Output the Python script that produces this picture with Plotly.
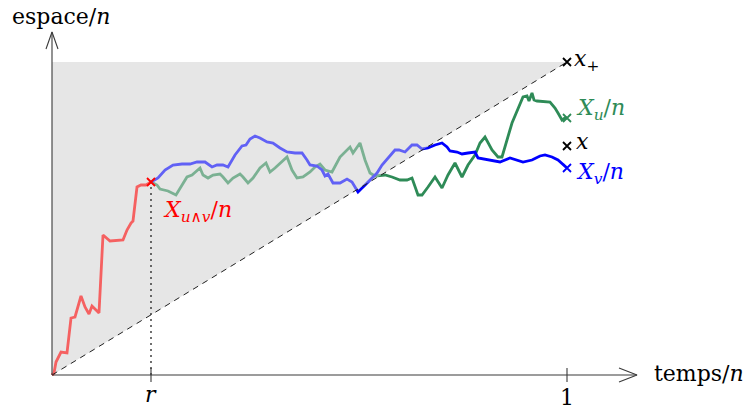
import plotly.graph_objects as go

# ---- data (time in steps, n = N; space in lattice units) ----
N = 515          # time horizon n  (t/n = 1)
XPLUS = 313      # x_+ level
X_LEVEL = 229    # x level
R = 99           # time r

red_t = [0, 2, 4, 9, 15, 19, 23, 29, 33, 37, 40, 47, 51, 58, 71, 75, 79, 81, 85, 89, 94, 99]
red_s = [0, 2, 13, 23, 22, 57, 58, 79, 68, 61, 69, 62, 140, 134, 135, 145, 152, 154, 188, 190, 190, 193]

blue_t = [99, 106, 113, 121, 130, 138, 145, 153, 160, 165, 171, 176, 183, 190, 194, 198, 203, 208,
          215, 221, 228, 235, 243, 250, 255, 258, 265, 270, 273, 276, 281, 288, 295, 300, 306, 313,
          318, 325, 330, 336, 343, 347, 353, 360, 365, 370, 376, 383, 390, 395, 398, 405, 410, 416,
          423, 426, 431, 438, 448, 458, 465, 471, 480, 488, 493, 500, 506, 511, 515]
blue_s = [193, 197, 205, 210, 211, 211, 213, 213, 208, 210, 210, 208, 220, 229, 230, 236, 239, 237,
          233, 232, 227, 223, 222, 222, 215, 210, 209, 205, 199, 201, 192, 192, 196, 193, 183, 190,
          195, 202, 210, 217, 225, 225, 223, 230, 230, 226, 227, 230, 232, 228, 224, 223, 221, 222,
          223, 217, 216, 215, 213, 217, 215, 213, 215, 219, 220, 218, 215, 210, 207]

green_t = [99, 105, 108, 116, 124, 130, 135, 140, 145, 148, 151, 156, 161, 168, 171, 176, 181, 188,
           191, 196, 201, 208, 214, 218, 223, 235, 240, 245, 251, 258, 263, 268, 273, 280, 288, 298,
           301, 308, 313, 318, 323, 333, 340, 348, 355, 360, 366, 370, 376, 383, 390, 396, 403, 410,
           416, 423, 428, 433, 440, 446, 450, 460, 471, 475, 477, 480, 482, 485, 498, 503, 506, 510,
           513, 515]
green_s = [193, 190, 186, 184, 180, 190, 198, 200, 205, 207, 200, 197, 200, 201, 198, 192, 197, 201,
           198, 192, 197, 207, 212, 203, 207, 218, 205, 197, 198, 203, 208, 211, 205, 203, 218, 228,
           222, 232, 215, 202, 199, 200, 198, 195, 195, 197, 180, 180, 188, 198, 187, 200, 212, 198,
           210, 220, 232, 238, 225, 218, 218, 252, 278, 279, 274, 282, 275, 274, 273, 267, 262, 255,
           257, 257]

M = red_s[-1]     # X_{u^v} at time r
XU = green_s[-1]
XV = blue_s[-1]

GRAY = "#e6e6e6"
GREEN = "rgb(46,139,87)"
BLUE = "rgb(0,0,255)"
RED = "rgb(255,0,0)"
AXIS = "#3a3a3a"
FONT = "DejaVu Serif"

fig = go.Figure()

# gray region above the diagonal
poly_t = [0, 0, N, 0]
poly_s = [0, XPLUS, XPLUS, 0]
fig.add_trace(go.Scatter(x=poly_t, y=poly_s, fill="toself", fillcolor=GRAY,
                         mode="none", hoverinfo="skip"))

# paths (full colour)
for t, s, c in [(red_t, red_s, RED), (green_t, green_s, GREEN), (blue_t, blue_s, BLUE)]:
    fig.add_trace(go.Scatter(x=t, y=s, mode="lines",
                             line=dict(color=c, width=2.8, shape="linear"),
                             hoverinfo="skip"))

# translucent veil: paths look light inside the gray region
fig.add_trace(go.Scatter(x=poly_t, y=poly_s, fill="toself",
                         fillcolor="rgba(230,230,230,0.42)",
                         mode="none", hoverinfo="skip"))

# dashed diagonal and dotted line at r
fig.add_trace(go.Scatter(x=[0, N], y=[0, XPLUS], mode="lines",
                         line=dict(color="#222", width=1, dash="6px,5px"), hoverinfo="skip"))
fig.add_trace(go.Scatter(x=[R, R], y=[0, M], mode="lines",
                         line=dict(color="#222", width=1.3, dash="2px,4px"), hoverinfo="skip"))

# axes with open arrow heads (1 data unit = 1 px)
XEND = 585
YEND = 343
ax_x = [0, XEND, None, XEND - 18, XEND, XEND - 18, None, 0, 0, None, -6, 0, 6]
ax_y = [0, 0, None, 7, 0, -7, None, 0, YEND, None, YEND - 17, YEND, YEND - 17]
fig.add_trace(go.Scatter(x=ax_x, y=ax_y, mode="lines",
                         line=dict(color=AXIS, width=1.1), hoverinfo="skip"))
# ticks
fig.add_trace(go.Scatter(x=[R, R, None, N, N], y=[-7, 7, None, -7, 7], mode="lines",
                         line=dict(color=AXIS, width=1.1), hoverinfo="skip"))

# crosses
def cross(x, y, c):
    fig.add_trace(go.Scatter(x=[x], y=[y], mode="markers",
                             marker=dict(symbol="x-thin", size=8,
                                         line=dict(color=c, width=1.8)),
                             hoverinfo="skip"))

cross(N, XPLUS, "black")
cross(N, X_LEVEL, "black")
cross(N, XU, GREEN)
cross(N, XV, BLUE)
cross(R, M, RED)

def label(text, x, y, color="black", xanchor="left", yanchor="middle", xshift=0, yshift=0, size=22):
    fig.add_annotation(x=x, y=y, text=text, showarrow=False, xanchor=xanchor, yanchor=yanchor,
                       xshift=xshift, yshift=yshift,
                       font=dict(family=FONT, size=size, color=color))

label("espace/<i>n</i>", -42, 359)
label("temps/<i>n</i>", XEND + 15, 2)
label("<i>r</i>", R, -19, xanchor="center")
label("1", N, -22, xanchor="center")
label("<i>x</i><sub>+</sub>", N, XPLUS, xshift=5, yshift=2)
label("<i>X</i><sub><i>u</i></sub>/<i>n</i>", N, XU, color=GREEN, xshift=7, yshift=9)
label("<i>x</i>", N, X_LEVEL, xshift=7, yshift=5)
label("<i>X</i><sub><i>v</i></sub>/<i>n</i>", N, XV, color=BLUE, xshift=7, yshift=-5)
label("<i>X</i><sub><i>u</i>∧<i>v</i></sub>/<i>n</i>", R + 10, M, color=RED, yshift=-29)

# page body has an 8px margin: shift the ranges so the drawing lands where intended
fig.update_layout(width=752, height=411, margin=dict(l=0, r=0, t=0, b=0),
                  paper_bgcolor="white", plot_bgcolor="white", showlegend=False,
                  xaxis=dict(range=[-44, 708], visible=False, fixedrange=True),
                  yaxis=dict(range=[-44, 367], visible=False, fixedrange=True))

fig.write_html("out.html")
